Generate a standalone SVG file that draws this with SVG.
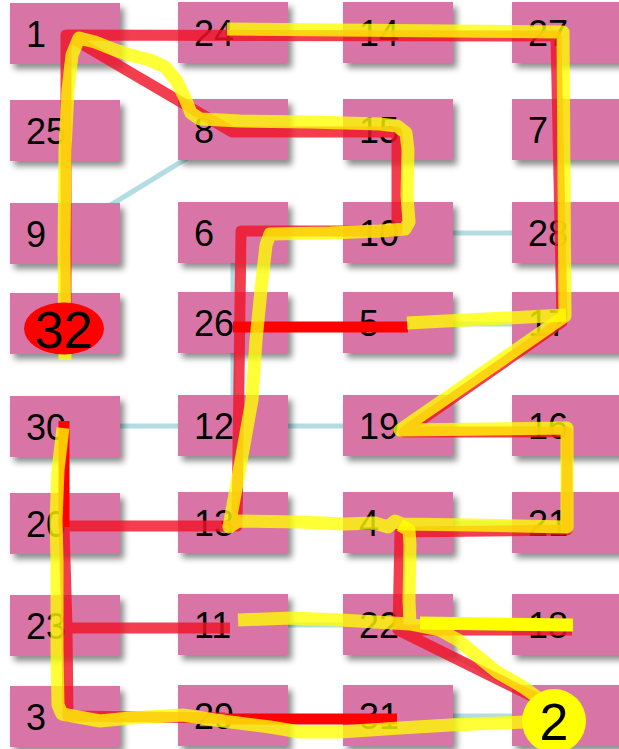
<svg xmlns="http://www.w3.org/2000/svg" width="619" height="749" viewBox="0 0 619 749">
<style>
.n{fill:#d874a6;filter:url(#sh)}
.t{font-family:"Liberation Sans",Arial,sans-serif;font-size:36px;fill:#000}
.big{font-family:"Liberation Sans",Arial,sans-serif;font-size:52px;fill:#000;text-anchor:middle}
.lb{stroke:#b3dde2;stroke-width:5;fill:none}
.rs{stroke:#f01428;stroke-opacity:0.82;stroke-width:11;fill:none;stroke-linejoin:round}
.ro{stroke:#ff0000;stroke-width:11;fill:none}
.ys{stroke:#ffff00;stroke-opacity:0.78;stroke-width:13;fill:none;stroke-linejoin:round}
.yo{stroke:#ffff00;stroke-width:13;fill:none}
</style>
<defs>
<filter id="sh" x="-10%" y="-15%" width="130%" height="150%">
<feDropShadow dx="4" dy="5" stdDeviation="3" flood-color="#000" flood-opacity="0.45"/>
</filter>
</defs>
<rect width="619" height="749" fill="#fff"/>
<g id="edges-base">
<line class="lb" x1="233" y1="130" x2="65" y2="233"/>
<line class="lb" x1="398" y1="233" x2="567" y2="233"/>
<line class="lb" x1="233" y1="233" x2="233" y2="426"/>
<line class="lb" x1="398" y1="324" x2="567" y2="324"/>
<line class="lb" x1="65" y1="426" x2="398" y2="426"/>
<line class="lb" x1="233" y1="625" x2="398" y2="625"/>
<line class="lb" x1="398" y1="625" x2="567" y2="716"/>
<line class="lb" x1="398" y1="716" x2="567" y2="716"/>
<line class="lb" x1="398" y1="523" x2="567" y2="523"/>
</g>
<g id="node-1"><rect class="n" x="10" y="3" width="110" height="61"/><text class="t" x="26" y="47">1</text></g>
<g id="node-25"><rect class="n" x="10" y="100" width="110" height="61"/><text class="t" x="26" y="144">25</text></g>
<g id="node-9"><rect class="n" x="10" y="203" width="110" height="61"/><text class="t" x="26" y="247">9</text></g>
<g id="node-32"><rect class="n" x="10" y="293" width="110" height="61"/></g>
<g id="node-30"><rect class="n" x="10" y="396" width="110" height="61"/><text class="t" x="26" y="440">30</text></g>
<g id="node-20"><rect class="n" x="10" y="493" width="110" height="61"/><text class="t" x="26" y="537">20</text></g>
<g id="node-23"><rect class="n" x="10" y="595" width="110" height="61"/><text class="t" x="26" y="639">23</text></g>
<g id="node-3"><rect class="n" x="10" y="686" width="110" height="61"/><text class="t" x="26" y="730">3</text></g>
<g id="node-24"><rect class="n" x="178" y="2" width="110" height="61"/><text class="t" x="194" y="46">24</text></g>
<g id="node-8"><rect class="n" x="178" y="99" width="110" height="61"/><text class="t" x="194" y="143">8</text></g>
<g id="node-6"><rect class="n" x="178" y="202" width="110" height="61"/><text class="t" x="194" y="246">6</text></g>
<g id="node-26"><rect class="n" x="178" y="292" width="110" height="61"/><text class="t" x="194" y="336">26</text></g>
<g id="node-12"><rect class="n" x="178" y="395" width="110" height="61"/><text class="t" x="194" y="439">12</text></g>
<g id="node-13"><rect class="n" x="178" y="492" width="110" height="61"/><text class="t" x="194" y="536">13</text></g>
<g id="node-11"><rect class="n" x="178" y="594" width="110" height="61"/><text class="t" x="194" y="638">11</text></g>
<g id="node-29"><rect class="n" x="178" y="685" width="110" height="61"/><text class="t" x="194" y="729">29</text></g>
<g id="node-14"><rect class="n" x="343" y="2" width="110" height="61"/><text class="t" x="359" y="46">14</text></g>
<g id="node-15"><rect class="n" x="343" y="99" width="110" height="61"/><text class="t" x="359" y="143">15</text></g>
<g id="node-10"><rect class="n" x="343" y="202" width="110" height="61"/><text class="t" x="359" y="246">10</text></g>
<g id="node-5"><rect class="n" x="343" y="292" width="110" height="61"/><text class="t" x="359" y="336">5</text></g>
<g id="node-19"><rect class="n" x="343" y="395" width="110" height="61"/><text class="t" x="359" y="439">19</text></g>
<g id="node-4"><rect class="n" x="343" y="492" width="110" height="61"/><text class="t" x="359" y="536">4</text></g>
<g id="node-22"><rect class="n" x="343" y="594" width="110" height="61"/><text class="t" x="359" y="638">22</text></g>
<g id="node-31"><rect class="n" x="343" y="685" width="110" height="61"/><text class="t" x="359" y="729">31</text></g>
<g id="node-27"><rect class="n" x="512" y="2" width="110" height="61"/><text class="t" x="528" y="46">27</text></g>
<g id="node-7"><rect class="n" x="512" y="99" width="110" height="61"/><text class="t" x="528" y="143">7</text></g>
<g id="node-28"><rect class="n" x="512" y="202" width="110" height="61"/><text class="t" x="528" y="246">28</text></g>
<g id="node-17"><rect class="n" x="512" y="292" width="110" height="61"/><text class="t" x="528" y="336">17</text></g>
<g id="node-16"><rect class="n" x="512" y="395" width="110" height="61"/><text class="t" x="528" y="439">16</text></g>
<g id="node-21"><rect class="n" x="512" y="492" width="110" height="61"/><text class="t" x="528" y="536">21</text></g>
<g id="node-18"><rect class="n" x="512" y="594" width="110" height="61"/><text class="t" x="528" y="638">18</text></g>
<g id="node-2"><rect class="n" x="512" y="685" width="110" height="61"/></g>
<g id="connectors">
<path class="rs" d="M66,318 L66,35 L556,36 L562,322 L404,432 L567,432 L567,530 L400,532 L398,630 L572,630 M398,630 L548,704 M70,37 L232,132 L397,132 L397,231 L241,231 L237,526 L64,526 M64,526 L67,628 L230,628 M67,628 L68,716 L225,718"/>
<path class="ro" d="M64,421 L64,527 M233,327 L408,327 M225,719 L397,719"/>
<path class="ys" d="M65,360 L64,250 L65,150 L68,90 L72,55 L79,38 L95,42 L115,50 L130,55 L150,60 L165,67 L176,80 L185,98 L191,113 L200,119 L240,121 L310,122 L380,124 L397,126 L406,133 L408,150 L407,195 L409,222 L405,229 L380,231 L330,233 L270,234 L266,245 L261,290 L256,340 L252,400 L243,450 L229,527 L238,521 L300,522 L345,524 L375,523 L388,527 L395,521 L402,524 L470,525 L567,527 L567,428 L400,430 L565,316 L563,32 L227,29"/>
<path class="ys" d="M400,525 L409,530 L410,545 L409,600 L410,624 L440,630 L458,640 L470,650 L497,672 L523,687 L548,705 M238,620 L290,618 L340,620 L410,624 M407,323 L566,315 M63,428 L58,470 L56,520 L57,560 L57,650 L58,705 L62,714 L100,721 L130,718 L183,715 L215,720 L270,727 L300,732 L340,732 L400,728 L450,725 L525,722"/>
<path class="yo" d="M420,623 L573,625"/>
</g>
<g id="node-32-mark"><ellipse cx="64" cy="328.5" rx="40" ry="26" fill="#ff0000"/><text class="big" x="64" y="348">32</text></g>
<g id="node-2-mark"><circle cx="554" cy="721" r="32" fill="#ffff00"/><text class="big" x="554" y="740">2</text></g>
</svg>
